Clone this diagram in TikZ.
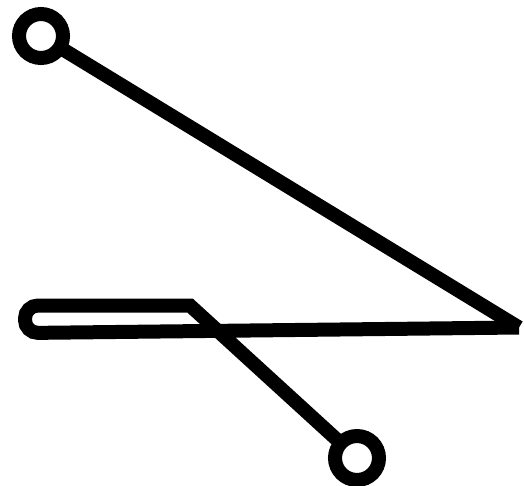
\documentclass[tikz,border=0pt]{standalone}
\begin{document}
\begin{tikzpicture}[x=1pt,y=-1pt,
  wire/.style={line width=14pt,line join=miter,miter limit=10},
  ring/.style={circle,draw,line width=14pt,minimum size=44pt,inner sep=0pt,outer sep=0pt}]
\useasboundingbox (0,0) rectangle (524,485);
\node[ring] (c1) at (41,36) {};
\node[ring] (c2) at (357,458) {};
\coordinate (tip) at (519,327.5);
\coordinate (lb) at (25,333);
\coordinate (lt) at (25,305.5);
\coordinate (corner) at (190,305.5);
\draw[wire] (c1) -- (tip);
\draw[wire] (tip) [rounded corners=13pt] -- (lb) -- (lt) [sharp corners] -- (corner) -- (c2);
\end{tikzpicture}
\end{document}
